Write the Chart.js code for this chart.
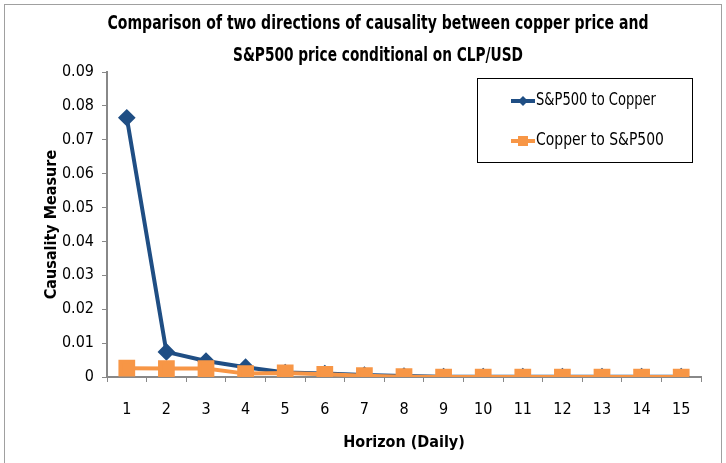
<!DOCTYPE html>
<html>
<head>
<meta charset="utf-8">
<script src="https://cdn.jsdelivr.net/npm/chart.js@4"></script>
<style>
  html, body { margin: 0; padding: 0; background: #fff; }
  #wrap { width: 726px; height: 463px; position: relative; }
</style>
</head>
<body>
<div id="wrap"><canvas id="causalityChart"></canvas></div>
<script>
// data
const horizons = ["1","2","3","4","5","6","7","8","9","10","11","12","13","14","15"];
const spToCopper = [0.0765, 0.0074, 0.0047, 0.0029, 0.0013, 0.0010, 0.0006, 0.0003, 0.0001, 0.0001, 0.0001, 0.0001, 0.0001, 0.0001, 0.0001];
const copperToSp = [0.0026, 0.0025, 0.0025, 0.0010, 0.0012, 0.0008, 0.0004, 0.0001, 0.0000, 0.0000, 0.0000, 0.0000, 0.0000, 0.0000, 0.0000];
const titleLines = ["Comparison of two directions of causality between copper price and", "S&P500 price conditional on CLP/USD"];

const narrow = '"DejaVu Sans Condensed", "Liberation Sans Narrow", sans-serif';

// titel, legenda dan bingkai digambar sendiri
const decorPlugin = {
    id: "decor",
    afterDraw(chart) {
        const ctx = chart.ctx;
        ctx.save();
        // bingkai luar
        ctx.strokeStyle = "#a0a0a0";
        ctx.lineWidth = 1;
        ctx.strokeRect(4.5, 4.5, 717, 470);

        // judul (dipadatkan seperti font Calibri)
        ctx.fillStyle = "#000";
        ctx.font = "bold 20px " + narrow;
        ctx.textAlign = "center";
        ctx.textBaseline = "middle";
        ctx.fillText(titleLines[0], 378, 24, 541);
        ctx.fillText(titleLines[1], 378, 56, 290);

        // legenda
        ctx.strokeStyle = "#000";
        ctx.strokeRect(477.5, 78.5, 215, 84);
        const items = chart.data.datasets;
        items.forEach(function (ds, i) {
            const y = 101 + i * 40;
            ctx.strokeStyle = ds.borderColor;
            ctx.lineWidth = 4;
            ctx.beginPath();
            ctx.moveTo(511, y);
            ctx.lineTo(535, y);
            ctx.stroke();
            ctx.fillStyle = ds.borderColor;
            ctx.beginPath();
            if (ds.pointStyle === "rectRot") {
                ctx.moveTo(523, y - 5); ctx.lineTo(528, y); ctx.lineTo(523, y + 5); ctx.lineTo(518, y);
            } else {
                ctx.rect(518, y - 5, 10, 10);
            }
            ctx.fill();
            ctx.fillStyle = "#000";
            ctx.font = "17px " + narrow;
            ctx.textAlign = "left";
            ctx.fillText(ds.label, 536, y, i === 0 ? 120 : 128);
        });
        ctx.restore();
    }
};

const ctx = document.getElementById("causalityChart").getContext("2d");
new Chart(ctx, {
    type: "line",
    data: {
        labels: horizons,
        datasets: [{
            label: "S&P500 to Copper",
            data: spToCopper,
            borderColor: "#1f4e84",
            backgroundColor: "#1f4e84",
            borderWidth: 4,
            pointStyle: "rectRot",
            pointRadius: 6,
            pointHoverRadius: 6,
            order: 2
        }, {
            label: "Copper to S&P500",
            data: copperToSp,
            borderColor: "#f79646",
            backgroundColor: "#f79646",
            borderWidth: 4,
            pointStyle: "rect",
            pointRadius: 9,
            pointHoverRadius: 9,
            order: 1
        }]
    },
    options: {
        responsive: true,
        maintainAspectRatio: false,
        animation: false,
        layout: { padding: { top: 72, right: 25, left: 38, bottom: 0 } },
        plugins: {
            legend: { display: false },
            title: { display: false },
            tooltip: { enabled: false }
        },
        scales: {
            x: {
                offset: true,
                grid: { offset: true, drawOnChartArea: false, drawTicks: true, tickLength: 5, color: "#888" },
                border: { color: "#888", width: 2 },
                ticks: { color: "#000", font: { size: 16, family: narrow }, padding: 18 },
                title: { display: true, text: "Horizon (Daily)", color: "#000", font: { size: 16, weight: "bold", family: narrow }, padding: { top: 6, bottom: 11 } },
                afterFit: function (scale) { scale.height = 86; }
            },
            y: {
                min: 0,
                max: 0.09,
                grid: { drawOnChartArea: false, drawTicks: true, tickLength: 5, color: "#888" },
                border: { color: "#888", width: 2 },
                ticks: {
                    stepSize: 0.01,
                    color: "#000",
                    font: { size: 16, family: narrow },
                    padding: 8,
                    callback: function (v) { return v === 0 ? "0" : v.toFixed(2); }
                },
                title: { display: true, text: "Causality Measure", color: "#000", font: { size: 16, weight: "bold", family: narrow }, padding: { bottom: 4 } },
                afterFit: function (scale) { scale.width = 69; }
            }
        }
    },
    plugins: [decorPlugin]
});
</script>
</body>
</html>
